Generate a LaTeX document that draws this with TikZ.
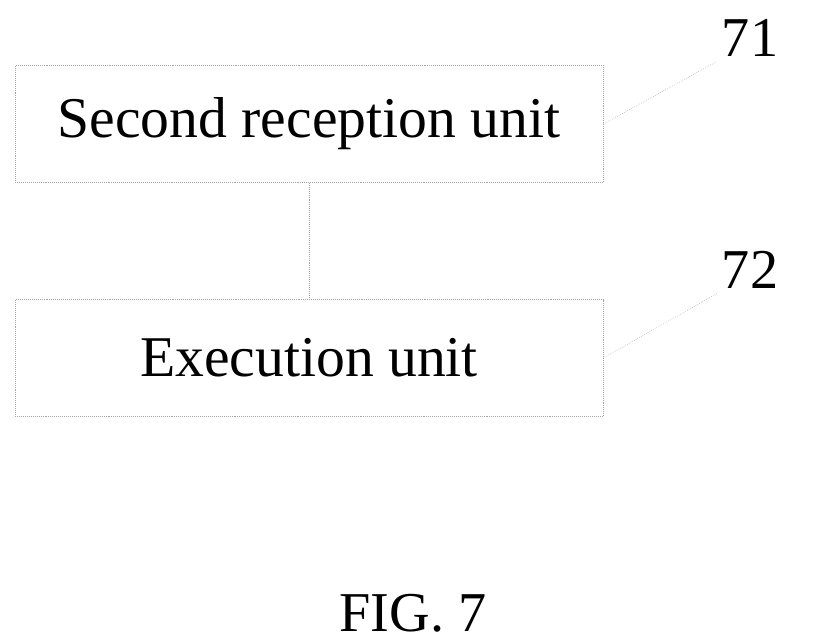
\documentclass[tikz,border=0pt]{standalone}
\usepackage{fontspec}
\setmainfont{Liberation Serif}
\begin{document}
\begin{tikzpicture}[x=0.025cm,y=-0.025cm,
  unit/.style={draw=gray!70,densely dotted,minimum width=588*0.025cm,minimum height=117*0.025cm,font=\fontsize{41}{44}\selectfont},
  lead/.style={draw=gray!70,densely dotted}]
\useasboundingbox (0,0) rectangle (822,643);

\node [unit] (rec) at (309,124) {Second reception unit};
\node [unit] (exe) at (309,358) {Execution unit};
\node [font=\fontsize{40}{42}\selectfont] (n71) at (750,38) {71};
\node [font=\fontsize{40}{42}\selectfont] (n72) at (750,270) {72};
\node [font=\fontsize{40}{42}\selectfont] (fig) at (413,613) {FIG. 7};

\draw [lead] (rec) -- (exe);
\draw [lead] (rec.east) -- (n71.south west);
\draw [lead] (exe.east) -- (n72.south west);
\end{tikzpicture}
\end{document}
